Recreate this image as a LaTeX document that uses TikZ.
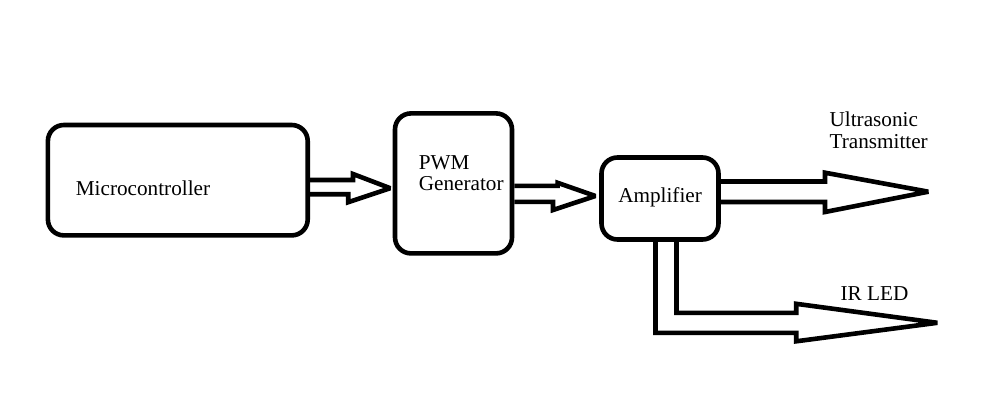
\documentclass[tikz,border=0pt]{standalone}
\usepackage{fontspec}
\setmainfont{Liberation Serif}
\usetikzlibrary{positioning}
\usetikzlibrary{calc}

\begin{document}
\begin{tikzpicture}[x=0.5pt,y=-0.5pt,line width=2.3pt,
  block/.style={rectangle,draw,rounded corners=8pt,inner sep=0pt},
  lbl/.style={inner sep=0pt,align=left,font=\fontsize{10.6}{10.8}\selectfont},
  fat/.style={draw,line width=2.3pt,miter limit=2}]

  \useasboundingbox (0,0) rectangle (984,401);

  % blocks
  \node[block,minimum width=129.9pt,minimum height=55.2pt] (micro) at (177.8,180.2) {};
  \node[block,minimum width=58.5pt,minimum height=70pt] (pwm) [below right=1.6pt and 137.85pt of micro.center,anchor=center] {};
  \node[block,minimum width=58.5pt,minimum height=41pt] (amp) [below right=7.55pt and 103.25pt of pwm.center,anchor=center] {};

  % free ends
  \coordinate[above right=3.4pt and 103.75pt of amp.east] (ustip);
  \coordinate[below right=40.5pt and 138.65pt of amp.south] (irtip);

  % texts
  \node[lbl,below right=7.4pt and 14pt of micro.west,anchor=base west] (microtxt) {Microcontroller};
  \node[lbl,below right=3.65pt and 11.9pt of pwm.west,anchor=base west] (pwmtxt) {PWM\\Generator};
  \node[lbl,below right=2.1pt and 8.4pt of amp.west,anchor=base west] (amptxt) {Amplifier};
  \node[lbl,above left=21.7pt and 50.5pt of ustip,anchor=base west] (ustxt) {Ultrasonic\\Transmitter};
  \node[lbl,above left=11.4pt and 49.5pt of irtip,anchor=base west] (irtxt) {IR LED};

  % arrows
  \path[fat] ($(micro.east)+(0,-0.2)$) -- ++(43,0) -- ++(0,-6)
    -- ($(pwm.west)+(-2.5,4.8)$) -- ++(-42,14) -- ++(0,-8) -- ($(micro.east)+(0,14)$);
  \path[fat] ($(pwm.east)+(0,2.4)$) -- ++(43.3,0) -- ++(0,-3)
    -- ($(amp.west)+(-3.8,-2.5)$) -- ++(-42.4,14) -- ++(0,-8.2) -- ($(pwm.east)+(0,18.4)$);
  \path[fat] ($(amp.east)+(0,-17)$) -- ++(104.2,0) -- ++(0,-8.8)
    -- (ustip) -- ++(-103.3,20.3) -- ++(0,-10) -- ($(amp.east)+(0,3.5)$);
  \path[fat] ($(amp.south)+(16.5,0)$) -- ++(0,71) -- ++(119.7,0) -- ++(0,-9)
    -- (irtip) -- ++(-141.1,18.5) -- ++(0,-8.5) -- ++(-140.7,0) -- ($(amp.south)+(-4.5,0)$);

\end{tikzpicture}
\end{document}
